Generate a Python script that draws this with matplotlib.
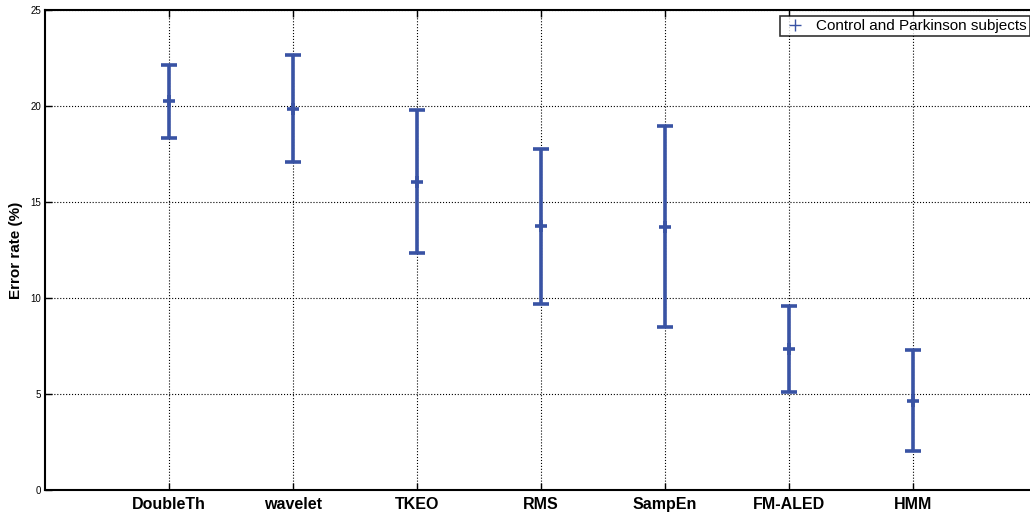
import numpy as np
import matplotlib
matplotlib.use('Agg')
import matplotlib.pyplot as plt
from matplotlib.lines import Line2D

plt.rcParams['font.family'] = ['Liberation Sans', 'DejaVu Sans']

# dados
metodos = ['DoubleTh', 'wavelet', 'TKEO', 'RMS', 'SampEn', 'FM-ALED', 'HMM']
media = [20.24, 19.84, 16.06, 13.73, 13.70, 7.36, 4.65]
inferior = [18.35, 17.07, 12.36, 9.70, 8.49, 5.12, 2.03]
superior = [22.14, 22.64, 19.79, 17.74, 18.94, 9.58, 7.29]
yticks = [0, 5, 10, 15, 20, 25]

cor = '#3953a4'
x = np.arange(1, len(metodos) + 1)
media = np.array(media)
err = [media - np.array(inferior), np.array(superior) - media]

fig = plt.figure(figsize=(10.30, 5.16), dpi=100)
ax = fig.add_axes([45/1030, 26/516, 992/1030, 480/516])

ax.errorbar(x, media, yerr=err, fmt='+', color=cor, ecolor=cor,
            elinewidth=2.6, capsize=5.5, capthick=2.6, markersize=8, mew=2.6)

ax.set_xlim(0, 8)
ax.set_ylim(0, 25)
ax.set_xticks(x)
ax.set_xticklabels(metodos, fontsize=11.5, fontweight='bold')
ax.set_yticks(yticks)
ax.set_yticklabels([str(v) for v in yticks], fontsize=7)
ax.tick_params(direction='in', top=True, right=True, length=5, width=1, pad=3)
ax.tick_params(axis='x', pad=5)
ax.grid(True, color='black', linestyle=':', linewidth=0.8)
for s in ax.spines.values():
    s.set_linewidth(1.5)
ax.set_ylabel('Error rate (%)', fontsize=11, fontweight='bold', labelpad=5)

h = Line2D([], [], marker='+', linestyle='none', color=cor, markersize=8, mew=1)
leg = fig.legend([h], ['Control and Parkinson subjects'], loc='upper right',
                 bbox_to_anchor=(1030/1030, 1 - 16/516), fontsize=11,
                 frameon=True, fancybox=False, edgecolor='black',
                 borderpad=0.2, handletextpad=0.6, borderaxespad=0, handlelength=1.6)
leg.get_frame().set_linewidth(1.2)

fig.savefig('out.png', dpi=100)
